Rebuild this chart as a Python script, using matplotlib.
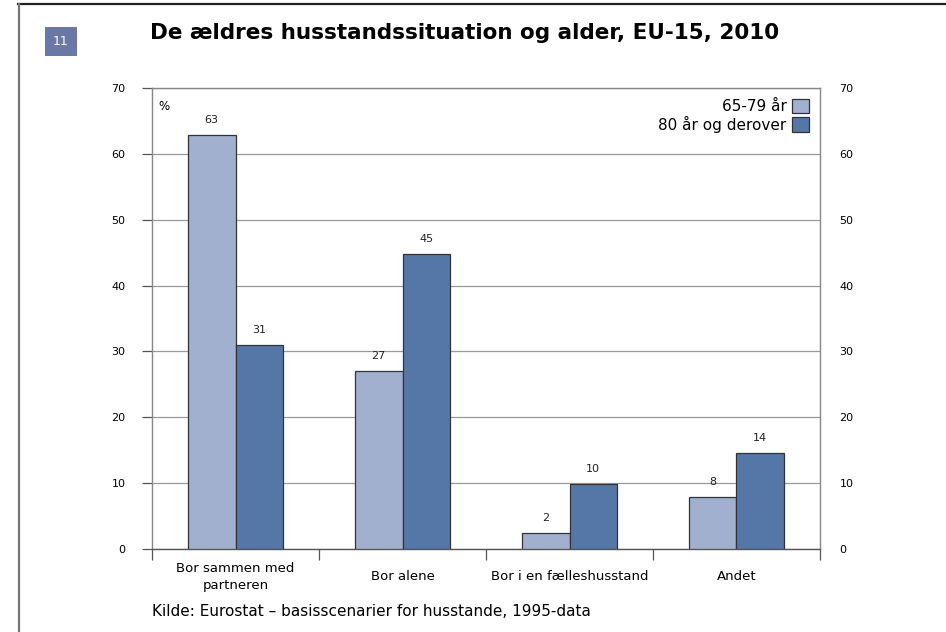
import matplotlib.pyplot as plt
import matplotlib.lines as mlines
import numpy as np

kategorier = ["Bor sammen med\npartneren", "Bor alene", "Bor i en fælleshusstand", "Andet"]
aar_65_79 = [62.9, 27.0, 2.4, 7.9]
aar_80 = [31.0, 44.8, 9.9, 14.6]
etiketter_65_79 = ["63", "27", "2", "8"]
etiketter_80 = ["31", "45", "10", "14"]
serier = ["65-79 år", "80 år og derover"]

lys = '#A0B0CE'
mork = '#5577A7'

fig = plt.figure(figsize=(9.46, 6.32), dpi=100)
ax = fig.add_axes([0.1607, 0.1313, 0.7061, 0.7294])

x = np.arange(len(kategorier))
b = 0.285
ax.bar(x - b / 2, aar_65_79, width=b, color=lys, edgecolor='#333333', linewidth=0.9, label=serier[0], zorder=3)
ax.bar(x + b / 2, aar_80, width=b, color=mork, edgecolor='#333333', linewidth=0.9, label=serier[1], zorder=3)

for i in range(len(kategorier)):
    ax.text(x[i] - b / 2, aar_65_79[i] + 1.5, etiketter_65_79[i], ha='center', va='bottom', fontsize=8, color='#222222')
    ax.text(x[i] + b / 2, aar_80[i] + 1.5, etiketter_80[i], ha='center', va='bottom', fontsize=8, color='#222222')

ax.set_xlim(-0.5, 3.5)
ax.set_ylim(0, 70)
ax.set_yticks(range(0, 71, 10))
ax.yaxis.grid(True, color='#999999', linewidth=0.9, zorder=0)
ax.set_axisbelow(True)

ax.set_xticks(x)
ax.set_xticklabels(kategorier, fontsize=9.5)
for t in ax.get_xticklabels():
    t.set_va('center')
    t.set_linespacing(1.35)
ax.set_xticks(np.arange(-0.5, 3.6, 1), minor=True)
ax.tick_params(axis='x', which='major', length=0, pad=20)
ax.tick_params(axis='x', which='minor', length=8, color='#555555', width=0.9)
ax.tick_params(axis='y', length=7, color='#555555', width=0.9, labelsize=8, pad=12)

for s in ['left', 'top', 'right']:
    ax.spines[s].set_color('#888888')
    ax.spines[s].set_linewidth(1.0)
ax.spines['bottom'].set_color('#555555')
ax.spines['bottom'].set_linewidth(1.0)

ax2 = ax.twinx()
ax2.set_ylim(0, 70)
ax2.set_yticks(range(0, 71, 10))
ax2.tick_params(axis='y', length=0, labelsize=8, pad=14)
for s in ax2.spines.values():
    s.set_visible(False)

ax.text(0.01, 0.975, "%", transform=ax.transAxes, ha='left', va='top', fontsize=8.5)

ax.legend(loc='upper right', frameon=False, markerfirst=False, fontsize=11,
          handlelength=1.1, handleheight=1.1, handletextpad=0.4, labelspacing=0.1,
          borderaxespad=0.3)

fig.text(0.4915, 0.948, "De ældres husstandssituation og alder, EU-15, 2010", ha='center', va='center',
         fontsize=15.5, fontweight='bold')
fig.text(0.1607, 0.032, "Kilde: Eurostat – basisscenarier for husstande, 1995-data", ha='left', va='center',
         fontsize=11)

fig.text(0.0645, 0.934, "11", ha='center', va='center', fontsize=9, color='white',
         bbox=dict(boxstyle='square,pad=0.65', facecolor='#6A78A8', edgecolor='none'))

fig.add_artist(mlines.Line2D([18 / 946, 1], [1 - 3.5 / 632] * 2, transform=fig.transFigure, color='#222222', linewidth=1.6))
fig.add_artist(mlines.Line2D([18.5 / 946] * 2, [0, 1 - 3.5 / 632], transform=fig.transFigure, color='#777777', linewidth=1.6))

fig.savefig('out.png', dpi=100)
